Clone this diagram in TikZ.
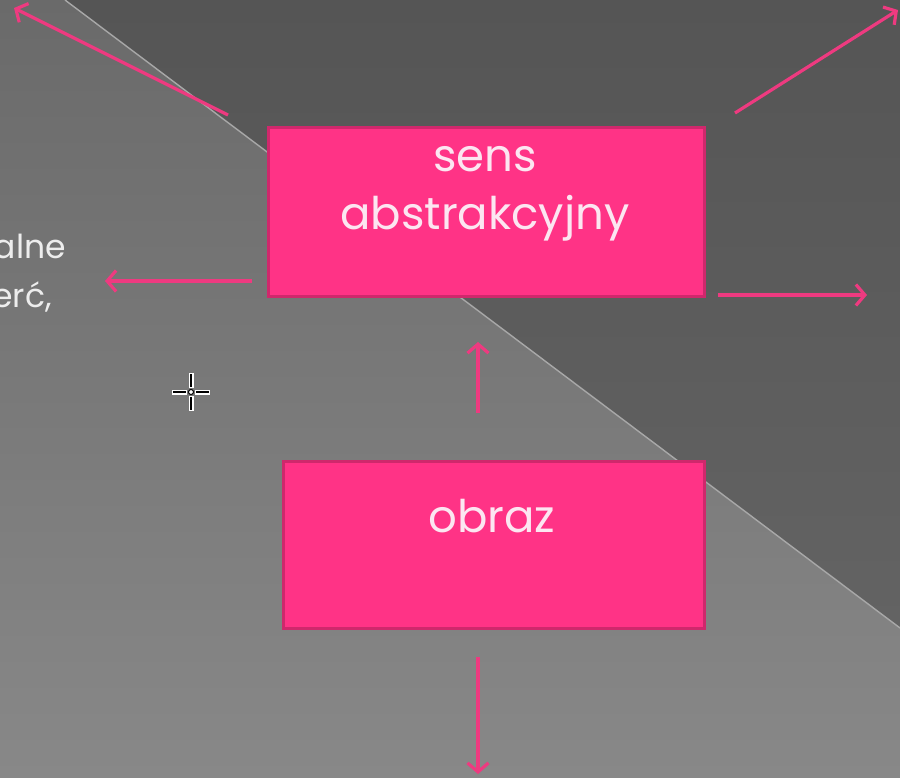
\documentclass[tikz,border=0pt]{standalone}
\usepackage{fontspec}
\setmainfont{Poppins}
\usetikzlibrary{arrows.meta}

\definecolor{paneLightTop}{HTML}{6A6A6A}
\definecolor{paneLightBottom}{HTML}{888888}
\definecolor{paneDarkTop}{HTML}{555555}
\definecolor{paneDarkBottom}{HTML}{636363}
\definecolor{seamGray}{HTML}{A8A8A8}
\definecolor{boxPink}{HTML}{FF3386}
\definecolor{boxEdge}{HTML}{CF286C}
\definecolor{arrowPink}{HTML}{EE3A80}
\definecolor{labelPink}{HTML}{FCE6F1}
\definecolor{sideText}{HTML}{EDEDED}

\tikzset{
  pinkbox/.style={draw=boxEdge, fill=boxPink, line width=3pt, inner sep=0pt},
  boxtext/.style={text=labelPink, font=\fontsize{45}{54}\selectfont, inner sep=0pt},
  sidetext/.style={text=sideText, font=\fontsize{33}{40}\selectfont, inner sep=0pt},
  pinkarrow/.style={draw=arrowPink, line width=3.2pt,
    -{Straight Barb[length=9pt,width=21pt,line width=3.2pt]}},
}

\begin{document}
\begin{tikzpicture}[x=1pt,y=-1pt]
  \useasboundingbox (0,0) rectangle (900,778);
  \clip (0,0) rectangle (900,778);

  % two background panes split by a diagonal seam
  \shade[top color=paneLightTop, bottom color=paneLightBottom] (0,0) rectangle (900,778);
  \shade[top color=paneDarkTop, bottom color=paneDarkBottom] (65,0) -- (900,0) -- (900,628) -- cycle;
  \draw[seamGray, line width=1.4pt] (65,0) -- (900,628);

  % text running in from the left edge
  \node[sidetext, anchor=base east] (lineA) at (66,259) {alne};
  \node[sidetext, anchor=base east] (lineB) at (52,307) {erć,};

  % boxes
  \node[pinkbox, minimum width=436pt, minimum height=168pt] (sens) at (486,212) {};
  \node[boxtext, anchor=base] (sensA) at (485,172) {sens};
  \node[boxtext, anchor=base] (sensB) at (485,230) {abstrakcyjny};

  \node[pinkbox, minimum width=421pt, minimum height=167pt] (obraz) at (493.5,544.5) {};
  \node[boxtext, anchor=base] (obrazT) at (492,532) {obraz};

  % arrow end points
  \coordinate (ulS) at (228,115);  \coordinate (ulE) at (14,8);
  \coordinate (urS) at (735,113);  \coordinate (urE) at (898,10);
  \coordinate (lS)  at (252,281);  \coordinate (lE)  at (105,281);
  \coordinate (rS)  at (718,295);  \coordinate (rE)  at (867,295);
  \coordinate (uS)  at (478,413);  \coordinate (uE)  at (478,342);
  \coordinate (dS)  at (478,657);  \coordinate (dE)  at (478,774);

  \draw[pinkarrow] (ulS) -- (ulE);
  \draw[pinkarrow] (urS) -- (urE);
  \draw[pinkarrow] (lS) -- (lE);
  \draw[pinkarrow] (rS) -- (rE);
  \draw[pinkarrow] (uS) -- (uE);
  \draw[pinkarrow] (dS) -- (dE);

  % crosshair cursor
  \coordinate (cur) at (191,392);
  \draw[white, line width=5pt] ([yshift=19pt]cur) -- ([yshift=4pt]cur)
    ([yshift=-4pt]cur) -- ([yshift=-19pt]cur)
    ([xshift=-19pt]cur) -- ([xshift=-4pt]cur)
    ([xshift=4pt]cur) -- ([xshift=19pt]cur);
  \draw[black, line width=2pt] ([yshift=18pt]cur) -- ([yshift=5pt]cur)
    ([yshift=-5pt]cur) -- ([yshift=-18pt]cur)
    ([xshift=-18pt]cur) -- ([xshift=-5pt]cur)
    ([xshift=5pt]cur) -- ([xshift=18pt]cur);
  \draw[black, fill=white, line width=1pt] (cur) circle (2.5pt);
\end{tikzpicture}
\end{document}
